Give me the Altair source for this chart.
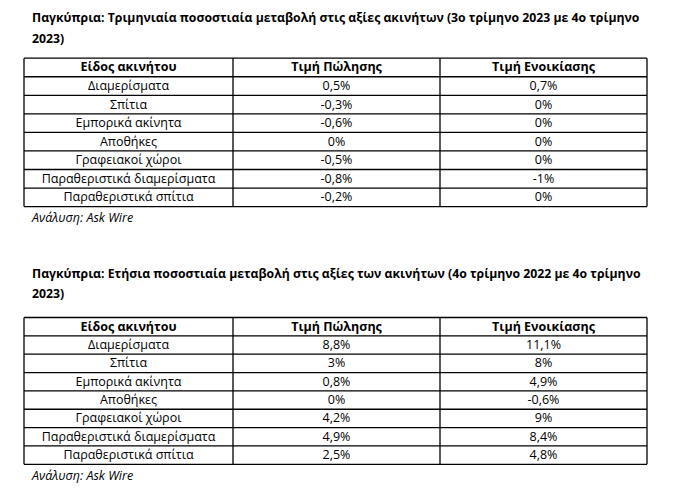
import altair as alt
import pandas as pd

# ---- data ----
headers = ["Είδος ακινήτου", "Τιμή Πώλησης", "Τιμή Ενοικίασης"]
categories = ["Διαμερίσματα", "Σπίτια", "Εμπορικά ακίνητα", "Αποθήκες",
              "Γραφειακοί χώροι", "Παραθεριστικά διαμερίσματα", "Παραθεριστικά σπίτια"]
q_sale = ["0,5%", "-0,3%", "-0,6%", "0%", "-0,5%", "-0,8%", "-0,2%"]
q_rent = ["0,7%", "0%", "0%", "0%", "0%", "-1%", "0%"]
y_sale = ["8,8%", "3%", "0,8%", "0%", "4,2%", "4,9%", "2,5%"]
y_rent = ["11,1%", "8%", "4,9%", "-0,6%", "9%", "8,4%", "4,8%"]
title1 = ["Παγκύπρια: Τριμηνιαία ποσοστιαία μεταβολή στις αξίες ακινήτων (3ο τρίμηνο 2023 με 4ο τρίμηνο", "2023)"]
title2 = ["Παγκύπρια: Ετήσια ποσοστιαία μεταβολή στις αξίες των ακινήτων (4ο τρίμηνο 2022 με 4ο τρίμηνο", "2023)"]
source = "Ανάλυση: Ask Wire"

# ---- layout (chart units = pixels) ----
W, H = 659, 482
col_edges = [16, 225, 432, 639]
col_centers = [(a + b) / 2 for a, b in zip(col_edges[:-1], col_edges[1:])]
tables = [
    dict(top=50.2, rh=18.55, title=title1, title_y=[10, 30.5], cols=[q_sale, q_rent]),
    dict(top=309.5, rh=18.35, title=title2, title_y=[266, 286], cols=[y_sale, y_rent]),
]
text_x = 24
font = "Open Sans"

cells, hlines, vlines, titles, notes = [], [], [], [], []
for t in tables:
    rows = [headers] + [[c, s, r] for c, s, r in zip(categories, t["cols"][0], t["cols"][1])]
    for i, row in enumerate(rows):
        for j, txt in enumerate(row):
            cells.append(dict(x=col_centers[j], y=t["top"] + (i + 0.5) * t["rh"], text=txt,
                              weight="bold" if i == 0 else "normal"))
    n = len(rows)
    for i in range(n + 1):
        hlines.append(dict(x=col_edges[0], x2=col_edges[-1], y=t["top"] + i * t["rh"]))
    for e in col_edges:
        vlines.append(dict(x=e, y=t["top"], y2=t["top"] + n * t["rh"]))
    for line, yy in zip(t["title"], t["title_y"]):
        titles.append(dict(x=text_x, y=yy, text=line))
    notes.append(dict(x=text_x, y=t["top"] + n * t["rh"] + 11.5, text=source))

xs = alt.Scale(domain=[0, W], range=[0, W])
ys = alt.Scale(domain=[0, H], range=[0, H])
X = lambda f: alt.X(f, type="quantitative", scale=xs, axis=None)
Y = lambda f: alt.Y(f, type="quantitative", scale=ys, axis=None)

cell_df = pd.DataFrame(cells)
body = alt.Chart(cell_df[cell_df.weight == "normal"]).mark_text(
    font=font, fontSize=12.5, color="#000", baseline="middle", align="center"
).encode(x=X("x"), y=Y("y"), text="text:N")
head = alt.Chart(cell_df[cell_df.weight == "bold"]).mark_text(
    font=font, fontSize=12.5, fontWeight="bold", color="#000", baseline="middle", align="center"
).encode(x=X("x"), y=Y("y"), text="text:N")
hl = alt.Chart(pd.DataFrame(hlines)).mark_rule(color="#000", strokeWidth=1.3).encode(
    x=X("x"), x2="x2", y=Y("y"))
vl = alt.Chart(pd.DataFrame(vlines)).mark_rule(color="#000", strokeWidth=1.3).encode(
    x=X("x"), y=Y("y"), y2="y2")
tt = alt.Chart(pd.DataFrame(titles)).mark_text(
    font=font, fontSize=12.25, fontWeight="bold", color="#000", baseline="middle", align="left"
).encode(x=X("x"), y=Y("y"), text="text:N")
nt = alt.Chart(pd.DataFrame(notes)).mark_text(
    font=font, fontSize=12.5, fontStyle="italic", color="#000", baseline="middle", align="left"
).encode(x=X("x"), y=Y("y"), text="text:N")

chart = alt.layer(hl, vl, head, body, tt, nt).properties(
    width=W, height=H, padding=0, autosize=alt.AutoSizeParams(type="none"), background="white"
).configure_view(stroke=None)

chart.save("out.html", embed_options={"renderer": "svg", "actions": False})
